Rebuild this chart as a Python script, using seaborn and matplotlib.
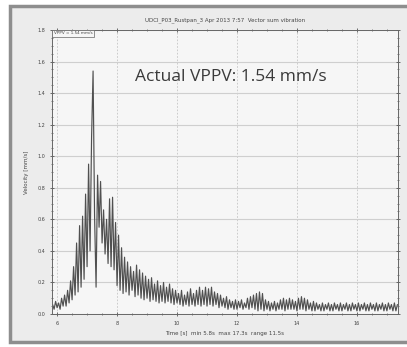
import numpy as np
import seaborn as sns
import matplotlib
matplotlib.use("Agg")
import matplotlib.pyplot as plt
from matplotlib.patches import Rectangle
from matplotlib.ticker import MultipleLocator, AutoMinorLocator

# vector sum velocity, one sample every 0.05 s starting at 5.85 s
t_start = 5.85
dt = 0.05
velocity = [
    0.06, 0.03, 0.08, 0.04, 0.07, 0.03, 0.10, 0.05, 0.12, 0.05, 0.15, 0.07, 0.21, 0.09, 0.30, 0.12, 0.45, 0.14, 0.56, 0.17,
    0.62, 0.22, 0.76, 0.30, 0.95, 0.40, 1.12, 1.54, 0.62, 0.17, 0.88, 0.55, 0.84, 0.45, 0.66, 0.38, 0.60, 0.32, 0.73, 0.30,
    0.74, 0.28, 0.58, 0.18, 0.50, 0.15, 0.42, 0.13, 0.36, 0.14, 0.33, 0.12, 0.30, 0.15, 0.27, 0.11, 0.31, 0.12, 0.28, 0.10,
    0.26, 0.09, 0.24, 0.10, 0.22, 0.08, 0.23, 0.09, 0.19, 0.08, 0.21, 0.07, 0.18, 0.08, 0.20, 0.07, 0.17, 0.08, 0.19, 0.07,
    0.16, 0.06, 0.15, 0.07, 0.13, 0.06, 0.15, 0.05, 0.12, 0.06, 0.14, 0.05, 0.16, 0.06, 0.13, 0.05, 0.15, 0.06, 0.17, 0.05,
    0.15, 0.06, 0.17, 0.05, 0.16, 0.06, 0.17, 0.05, 0.14, 0.06, 0.13, 0.04, 0.12, 0.05, 0.10, 0.04, 0.11, 0.03, 0.09, 0.04,
    0.08, 0.03, 0.09, 0.03, 0.08, 0.04, 0.09, 0.03, 0.07, 0.04, 0.10, 0.03, 0.11, 0.04, 0.12, 0.03, 0.13, 0.02, 0.14, 0.03,
    0.13, 0.02, 0.09, 0.03, 0.08, 0.02, 0.07, 0.03, 0.08, 0.02, 0.07, 0.03, 0.09, 0.03, 0.10, 0.02, 0.09, 0.03, 0.10, 0.03,
    0.09, 0.03, 0.08, 0.02, 0.10, 0.03, 0.11, 0.03, 0.10, 0.02, 0.09, 0.03, 0.07, 0.02, 0.08, 0.02, 0.07, 0.03, 0.06, 0.02,
    0.07, 0.02, 0.06, 0.03, 0.07, 0.02, 0.06, 0.02, 0.07, 0.03, 0.06, 0.02, 0.07, 0.02, 0.06, 0.03, 0.07, 0.02, 0.06, 0.02,
    0.07, 0.03, 0.06, 0.02, 0.07, 0.02, 0.06, 0.03, 0.07, 0.02, 0.06, 0.02, 0.07, 0.03, 0.06, 0.02, 0.07, 0.02, 0.06, 0.03,
    0.07, 0.02, 0.06, 0.02, 0.07, 0.03, 0.06, 0.02, 0.07, 0.02, 0.06,
]
time = t_start + dt * np.arange(len(velocity))

title = "UDCI_P03_Rustpan_3 Apr 2013 7:57  Vector sum vibration"
xlabel = "Time [s]  min 5.8s  max 17.3s  range 11.5s"
ylabel = "Velocity [mm/s]"
legend_text = "VPPV = 1.54 mm/s"
note = "Actual VPPV: 1.54 mm/s"

sns.set_theme(style="ticks")
plt.rcParams['font.family'] = ['DejaVu Sans']

fig = plt.figure(figsize=(4.07, 3.47), dpi=100, facecolor='white')
fig.patches.append(Rectangle((10 / 407, 1 - 342 / 347), 1.2, 336 / 347, transform=fig.transFigure,
                             facecolor='#ececec', edgecolor='#8e8e8e', linewidth=2.5, zorder=-10))
ax = fig.add_axes([52 / 407, 1 - 314 / 347, 346 / 407, 284 / 347])
ax.set_zorder(5)
ax.set_facecolor('#f6f6f6')

sns.lineplot(x=time, y=velocity, ax=ax, color='#505050', linewidth=0.85, estimator=None, sort=False)

ax.set_xlim(5.83, 17.37)
ax.set_ylim(0, 1.8)
ax.xaxis.set_major_locator(MultipleLocator(2))
ax.yaxis.set_major_locator(MultipleLocator(0.2))
ax.xaxis.set_minor_locator(AutoMinorLocator(4))
ax.yaxis.set_minor_locator(AutoMinorLocator(4))
ax.yaxis.set_major_formatter(plt.FormatStrFormatter('%.1f'))
ax.tick_params(which='both', direction='inout', top=True, right=True, labelsize=3.5,
               colors='#555555', labelcolor='#444444')
ax.tick_params(which='major', length=3, width=0.6)
ax.tick_params(which='minor', length=1.5, width=0.5)
ax.grid(axis='y', color='#cfcfcf', linewidth=0.8)
ax.grid(axis='x', color='#c4c4c4', linewidth=0.6, linestyle=(0, (2, 2)))
for s in ax.spines.values():
    s.set_color('#666666')
    s.set_linewidth(0.7)

ax.set_title(title, fontsize=4, color='#444444', pad=6)
ax.set_xlabel(xlabel, fontsize=4, color='#444444', labelpad=4)
ax.set_ylabel(ylabel, fontsize=4, color='#444444', labelpad=6)

ax.text(0.005, 0.995, legend_text, transform=ax.transAxes, fontsize=3, color='#444444',
        ha='left', va='top',
        bbox=dict(boxstyle='square,pad=0.3', facecolor='#f6f6f6', edgecolor='#666666', linewidth=0.5))
ax.text(0.24, 0.835, note, transform=ax.transAxes, fontsize=12.5, color='#3a3a3a',
        ha='left', va='center', family=['Open Sans', 'DejaVu Sans'])

fig.savefig("out.png", dpi=100, facecolor=fig.get_facecolor())
